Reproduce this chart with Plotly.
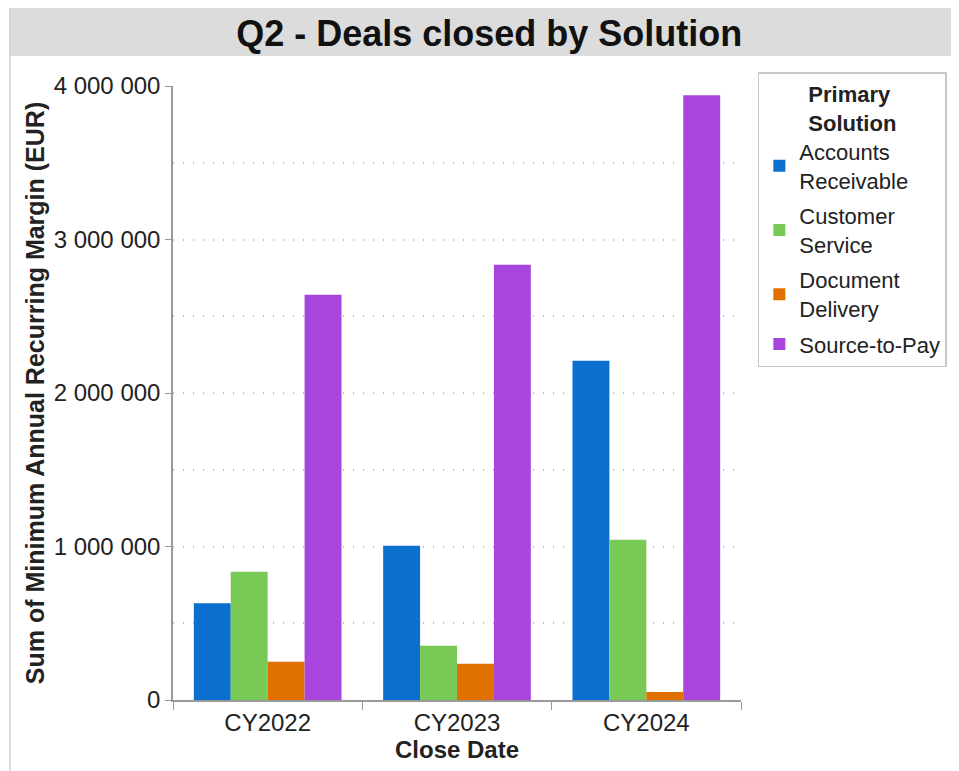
import plotly.graph_objects as go

years = ["CY2022", "CY2023", "CY2024"]
solutions = ["Accounts<br>Receivable", "Customer<br>Service", "Document<br>Delivery", "Source-to-Pay"]
accounts_receivable = [630000, 1005000, 2210000]
customer_service = [835000, 354000, 1044000]
document_delivery = [250000, 236000, 52000]
source_to_pay = [2640000, 2835000, 3940000]
colors = ["#0b6fd0", "#78c956", "#e07000", "#a845dc"]

series = [accounts_receivable, customer_service, document_delivery, source_to_pay]

FONT = "Liberation Sans, Arial, sans-serif"

fig = go.Figure()
for i, (name, vals) in enumerate(zip(solutions, series)):
    fig.add_trace(go.Bar(
        x=years, y=vals, name=name, marker_color=colors[i],
        marker_line_width=0, legendgroup=str(i),
    ))

# page has an 8px body margin, so the figure is 951x763
fig.update_layout(
    width=951, height=763,
    margin=dict(l=165, r=214, t=78, b=71),
    paper_bgcolor="white", plot_bgcolor="white",
    font=dict(family=FONT, size=24, color="#222"),
    separators=". ",
    barmode="group", bargap=0.22, bargroupgap=0,
    title=dict(text="<b>Q2 - Deals closed by Solution</b>", x=0.506, xanchor="center",
               y=0.967, yanchor="middle", font=dict(size=36, color="#111")),
    legend=dict(
        title=dict(text="<b>Primary<br>Solution</b>", side="top center", font=dict(size=22)),
        x=1.0297, xanchor="left", y=1.0228, yanchor="top",
        bordercolor="#c8c8c8", borderwidth=1.5,
        font=dict(size=22, color="#222"),
        traceorder="grouped", tracegroupgap=4,
        itemsizing="constant",
    ),
    showlegend=True,
)

fig.update_xaxes(
    showline=True, linecolor="#9a9a9a", linewidth=1.5,
    ticks="outside", tickson="boundaries", ticklen=8, tickcolor="#9a9a9a",
    title=dict(text="<b>Close Date</b>", font=dict(size=24), standoff=2),
    tickfont=dict(size=24),
)
fig.update_yaxes(
    range=[0, 4000000], dtick=1000000, tickformat=",d",
    showline=True, linecolor="#9a9a9a", linewidth=1.5,
    ticks="outside", ticklen=6, tickcolor="#9a9a9a",
    showgrid=True, gridcolor="#bdbdbd", griddash="1px,9px", gridwidth=1.5,
    minor=dict(dtick=500000, showgrid=True, gridcolor="#bdbdbd", griddash="1px,9px", gridwidth=1.5),
    zeroline=False,
    title=dict(text="<b>Sum of Minimum Annual Recurring Margin (EUR)</b>", font=dict(size=25), standoff=2),
    tickfont=dict(size=24),
)

# grey title band and left frame line
fig.add_shape(type="rect", xref="paper", yref="paper",
              x0=-0.2885, x1=1.38, y0=1.0489, y1=1.13,
              fillcolor="#dcdcdc", line_width=0, layer="below")
fig.add_shape(type="line", xref="paper", yref="paper",
              x0=-0.2871, x1=-0.2871, y0=-0.12, y1=1.13,
              line=dict(color="#d0d0d0", width=1.5))

fig.write_html("out.html")
